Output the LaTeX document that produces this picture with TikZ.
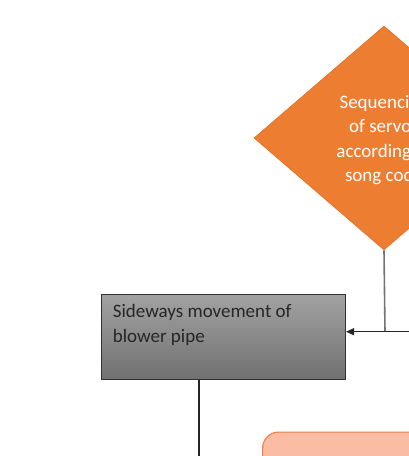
\documentclass[tikz,border=0pt]{standalone}
\usepackage{fontspec}
\setmainfont{Carlito}
\usetikzlibrary{shapes.geometric,arrows.meta}
\definecolor{dorange}{RGB}{237,125,49}
\definecolor{dorangeb}{RGB}{222,112,40}
\definecolor{lsalmon}{RGB}{250,188,162}
\definecolor{lsalmonb}{RGB}{242,128,78}
\definecolor{boxtop}{RGB}{162,162,162}
\definecolor{boxbot}{RGB}{112,112,112}
\definecolor{boxline}{RGB}{50,50,50}
\tikzset{
  decision/.style={diamond, fill=dorange, draw=dorangeb, line width=0.6pt, inner sep=0pt,
    minimum width=260pt, minimum height=224pt},
  dtext/.style={text=white, align=center, inner sep=0pt,
    font=\fontsize{19}{24.5}\selectfont},
  greybox/.style={rectangle, draw=boxline, line width=1.3pt, top color=boxtop, bottom color=boxbot,
    minimum width=244pt, minimum height=85pt, inner sep=0pt, anchor=north west},
  softbox/.style={rectangle, rounded corners=16pt, fill=lsalmon, draw=lsalmonb, line width=1.2pt,
    minimum width=200pt, minimum height=80pt, anchor=north west},
  conn/.style={line width=1.1pt, draw=black!85},
  gconn/.style={line width=1.6pt, draw=black!55},
  boxtext/.style={anchor=north west, align=left, inner sep=0pt, text=black!85,
    font=\fontsize{19}{25.5}\selectfont}
}
\begin{document}
\begin{tikzpicture}[x=1pt,y=-1pt]
\useasboundingbox (0,0) rectangle (409,456);
\clip (0,0) rectangle (409,456);
\node[decision] (d) at (384,138) {};
\node[dtext] (dt) at (384,140) {Sequencing\\of servos\\according to\\song code};
\node[greybox] (side) at (100.7,294) {};
\node[boxtext] (sidet) at (112.7,304) {Sideways movement of\\blower pipe};
\node[softbox] (en) at (262,431.5) {};
\coordinate (j) at (385,331.7);
\coordinate (r) at (420,331.7);
\coordinate (b) at (199,470);
\draw[gconn] (d.south) -- (j);
\draw[conn,-{Triangle[length=8pt,width=7pt]}] (r) -- (side.east |- j);
\draw[conn] (side.south -| b) -- (b);
\end{tikzpicture}
\end{document}
